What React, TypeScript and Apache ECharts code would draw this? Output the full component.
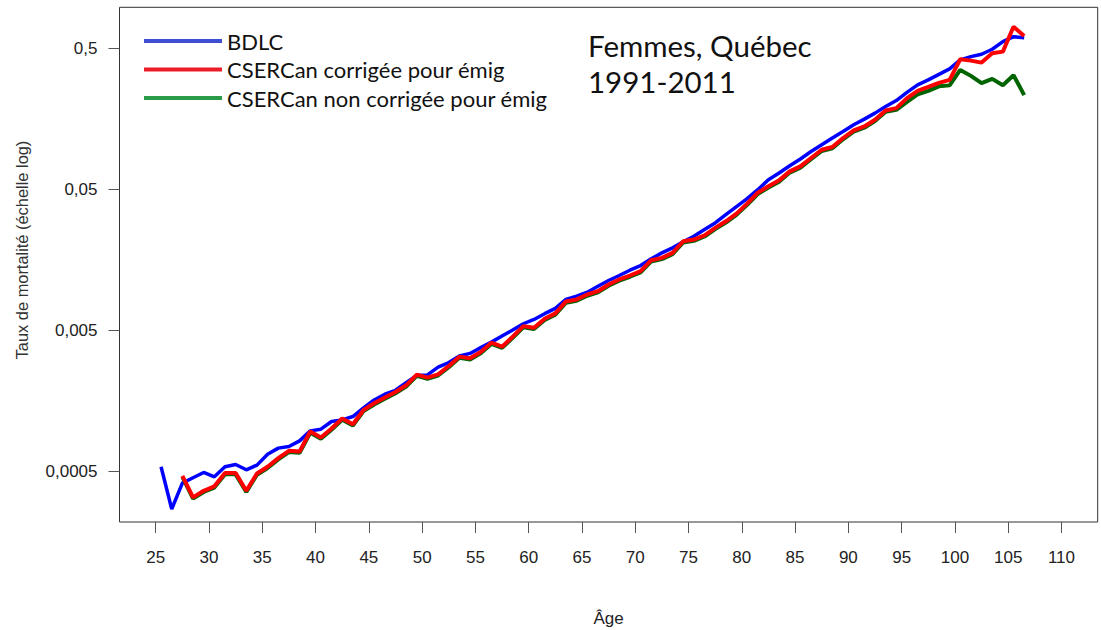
import React, { useEffect, useRef } from "react";
import * as echarts from "echarts";

// Age (mid-year) of first point of each series; one point per year of age
const bdlcStartAge = 25.5;
const cserStartAge = 27.5;

// Mortality rates (log scale)
const bdlcRates = [
  5.42e-4, 2.72e-4, 4.15e-4, 4.53e-4, 4.94e-4, 4.6e-4, 5.42e-4, 5.63e-4, 5.16e-4, 5.57e-4,
  6.66e-4, 7.35e-4, 7.55e-4, 8.27e-4, 9.74e-4, 1.001e-3, 1.135e-3, 1.165e-3, 1.231e-3, 1.416e-3,
  1.614e-3, 1.771e-3, 1.89e-3, 2.143e-3, 2.41e-3, 2.43e-3, 2.76e-3, 2.97e-3, 3.31e-3, 3.45e-3,
  3.79e-3, 4.15e-3, 4.58e-3, 5.05e-3, 5.6e-3, 6.01e-3, 6.6e-3, 7.19e-3, 8.33e-3, 8.79e-3,
  9.38e-3, 1.034e-2, 1.135e-2, 1.231e-2, 1.342e-2, 1.449e-2, 1.616e-2, 1.782e-2, 1.934e-2, 2.132e-2,
  2.336e-2, 2.606e-2, 2.906e-2, 3.327e-2, 3.791e-2, 4.318e-2, 5.0e-2, 5.88e-2, 6.57e-2, 7.39e-2,
  8.25e-2, 9.33e-2, 0.1041, 0.1161, 0.1293, 0.1442, 0.1582, 0.1745, 0.1943, 0.2143,
  0.2449, 0.2768, 0.3002, 0.3284, 0.3592, 0.4159, 0.4389, 0.4564, 0.4951, 0.5604,
  0.6078, 0.598,
];

const cserCorrRates = [
  4.68e-4, 3.29e-4, 3.66e-4, 3.94e-4, 4.89e-4, 4.89e-4, 3.66e-4, 4.86e-4, 5.42e-4, 6.24e-4,
  7.03e-4, 6.96e-4, 9.64e-4, 8.74e-4, 1.013e-3, 1.192e-3, 1.086e-3, 1.371e-3, 1.529e-3, 1.678e-3,
  1.838e-3, 2.05e-3, 2.441e-3, 2.324e-3, 2.453e-3, 2.808e-3, 3.273e-3, 3.184e-3, 3.528e-3, 4.111e-3,
  3.852e-3, 4.535e-3, 5.389e-3, 5.25e-3, 6.079e-3, 6.63e-3, 8.06e-3, 8.33e-3, 9.03e-3, 9.53e-3,
  1.063e-2, 1.154e-2, 1.231e-2, 1.321e-2, 1.58e-2, 1.643e-2, 1.782e-2, 2.154e-2, 2.214e-2, 2.374e-2,
  2.679e-2, 2.983e-2, 3.382e-2, 3.98e-2, 4.76e-2, 5.28e-2, 5.82e-2, 6.74e-2, 7.31e-2, 8.38e-2,
  9.6e-2, 0.1003, 0.1161, 0.1314, 0.1403, 0.1564, 0.182, 0.1893, 0.2228, 0.251,
  0.2679, 0.286, 0.3002, 0.4206, 0.4112, 0.398, 0.4638, 0.4761, 0.7156, 0.615,
];

const cserNonCorrRates = [
  4.59e-4, 3.22e-4, 3.59e-4, 3.86e-4, 4.79e-4, 4.79e-4, 3.59e-4, 4.76e-4, 5.31e-4, 6.12e-4,
  6.89e-4, 6.82e-4, 9.45e-4, 8.57e-4, 9.93e-4, 1.168e-3, 1.064e-3, 1.344e-3, 1.498e-3, 1.644e-3,
  1.801e-3, 2.009e-3, 2.392e-3, 2.278e-3, 2.404e-3, 2.752e-3, 3.208e-3, 3.12e-3, 3.457e-3, 4.029e-3,
  3.775e-3, 4.444e-3, 5.281e-3, 5.145e-3, 5.957e-3, 6.5e-3, 7.9e-3, 8.16e-3, 8.85e-3, 9.34e-3,
  1.042e-2, 1.131e-2, 1.206e-2, 1.295e-2, 1.548e-2, 1.61e-2, 1.746e-2, 2.111e-2, 2.17e-2, 2.327e-2,
  2.625e-2, 2.923e-2, 3.314e-2, 3.9e-2, 4.66e-2, 5.17e-2, 5.7e-2, 6.61e-2, 7.16e-2, 8.21e-2,
  9.41e-2, 0.0983, 0.1138, 0.1288, 0.1375, 0.1533, 0.1784, 0.1841, 0.2099, 0.237,
  0.251, 0.2701, 0.2745, 0.3534, 0.3205, 0.2845, 0.3051, 0.2754, 0.3241, 0.2339,
];

const seriesNames = [
  "BDLC",
  "CSERCan corrigée pour émig",
  "CSERCan non corrigée pour émig",
];

const xTicks = [25, 30, 35, 40, 45, 50, 55, 60, 65, 70, 75, 80, 85, 90, 95, 100, 105, 110];
const yTickValues = [0.0005, 0.005, 0.05, 0.5];
const yTickLabels = ["0,0005", "0,005", "0,05", "0,5"];

const xMin = 21.6;
const xMax = 113.4;
const yMin = 0.00022;
const yMax = 0.982;

const toPairs = (start: number, rates: number[]) =>
  rates.map((v, i) => [start + i, v]);

export default function App() {
  const ref = useRef<HTMLDivElement>(null);

  useEffect(() => {
    if (!ref.current) return;
    const chart = echarts.init(ref.current, null, { renderer: "svg" });
    const axisFont = "'Liberation Sans', Arial, sans-serif";
    const calFont = "Lato, 'Open Sans', sans-serif";

    const option: any = {
      animation: false,
      backgroundColor: "#ffffff",
      grid: {
        show: true,
        left: 119.5,
        right: 3.3,
        top: 7.3,
        bottom: 108,
        borderColor: "#333333",
        borderWidth: 1,
        backgroundColor: "transparent",
        containLabel: false,
        outerBoundsMode: "none",
      },
      legend: {
        orient: "vertical",
        left: 144,
        top: 27,
        padding: 0,
        itemGap: 0.5,
        itemWidth: 78,
        itemHeight: 4,
        icon: "rect",
        textStyle: {
          fontFamily: calFont,
          fontSize: 22,
          color: "#111111",
          lineHeight: 28,
        },
        data: [
          { name: seriesNames[0], itemStyle: { color: "#3f4fd4" } },
          { name: seriesNames[1], itemStyle: { color: "#ec1c26" } },
          { name: seriesNames[2], itemStyle: { color: "#2b9b48" } },
        ],
      },
      xAxis: {
        type: "value",
        min: xMin,
        max: xMax,
        name: "Âge",
        nameLocation: "middle",
        nameGap: 88,
        nameTextStyle: { fontFamily: axisFont, fontSize: 17, color: "#222222" },
        axisLine: { show: false },
        splitLine: { show: false },
        axisTick: {
          show: true,
          length: 11,
          customValues: xTicks,
          lineStyle: { color: "#555555", width: 1 },
        },
        axisLabel: {
          customValues: xTicks,
          margin: 27,
          fontFamily: axisFont,
          fontSize: 17,
          color: "#222222",
        },
      },
      yAxis: {
        type: "log",
        logBase: 10,
        min: yMin,
        max: yMax,
        axisLine: { show: false },
        splitLine: { show: false },
        minorTick: { show: false },
        axisTick: {
          show: true,
          length: 11,
          customValues: yTickValues,
          lineStyle: { color: "#555555", width: 1 },
        },
        axisLabel: {
          customValues: yTickValues,
          margin: 22,
          fontFamily: axisFont,
          fontSize: 17,
          color: "#222222",
          formatter: (val: number) => {
            for (let i = 0; i < yTickValues.length; i++) {
              if (Math.abs(Math.log10(val) - Math.log10(yTickValues[i])) < 0.01) {
                return yTickLabels[i];
              }
            }
            return "";
          },
        },
      },
      graphic: [
        {
          type: "text",
          x: 21.7,
          y: 250,
          rotation: Math.PI / 2,
          style: {
            text: "Taux de mortalité (échelle log)",
            fontFamily: axisFont,
            fontSize: 16.4,
            fill: "#333333",
            align: "center",
            verticalAlign: "middle",
          },
        },
        {
          type: "text",
          x: 588,
          y: 45.5,
          style: {
            text: "Femmes, Québec",
            fontFamily: calFont,
            fontSize: 29.5,
            fill: "#111111",
            align: "left",
            verticalAlign: "middle",
          },
        },
        {
          type: "text",
          x: 588,
          y: 81.5,
          style: {
            text: "1991-2011",
            fontFamily: calFont,
            fontSize: 29.5,
            fill: "#111111",
            align: "left",
            verticalAlign: "middle",
          },
        },
      ],
      series: [
        {
          name: seriesNames[0],
          type: "line",
          showSymbol: false,
          symbol: "none",
          data: toPairs(bdlcStartAge, bdlcRates),
          lineStyle: { color: "#0000ff", width: 3.5 },
          itemStyle: { color: "#0000ff" },
          z: 2,
        },
        {
          name: seriesNames[2],
          type: "line",
          showSymbol: false,
          symbol: "none",
          data: toPairs(cserStartAge, cserNonCorrRates),
          lineStyle: { color: "#006400", width: 4 },
          itemStyle: { color: "#006400" },
          z: 3,
        },
        {
          name: seriesNames[1],
          type: "line",
          showSymbol: false,
          symbol: "none",
          data: toPairs(cserStartAge, cserCorrRates),
          lineStyle: { color: "#ff0000", width: 4 },
          itemStyle: { color: "#ff0000" },
          z: 4,
        },
      ],
    };

    chart.setOption(option);
    return () => chart.dispose();
  }, []);

  return (
    <div
      ref={ref}
      style={{ position: "fixed", left: 0, top: 0, width: 1101, height: 630, background: "#fff" }}
    />
  );
}
